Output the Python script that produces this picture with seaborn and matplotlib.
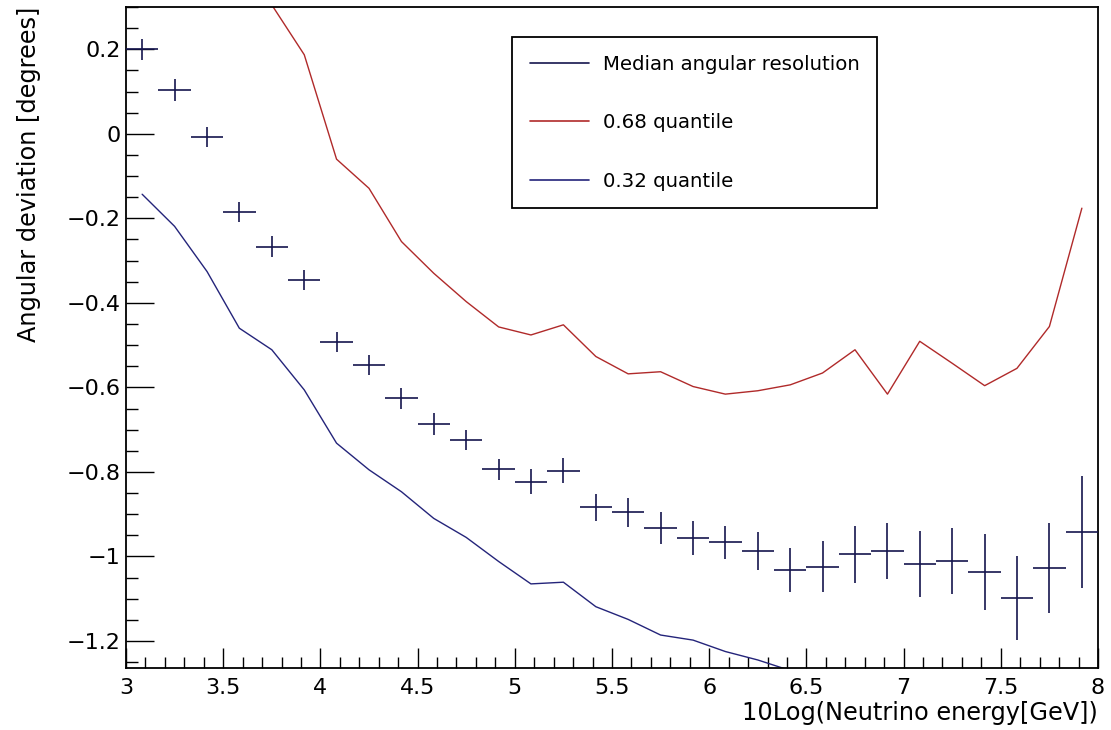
import numpy as np
import pandas as pd
import matplotlib
matplotlib.use("Agg")
import matplotlib.pyplot as plt
from matplotlib.ticker import MultipleLocator
from matplotlib.lines import Line2D
import seaborn as sns

# Energy bins: centres of the 30 bins in 10log(E/GeV) between 3 and 8
energy = [3.083, 3.250, 3.417, 3.583, 3.750, 3.917, 4.083, 4.250, 4.417, 4.583,
          4.750, 4.917, 5.083, 5.250, 5.417, 5.583, 5.750, 5.917, 6.083, 6.250,
          6.417, 6.583, 6.750, 6.917, 7.083, 7.250, 7.417, 7.583, 7.750, 7.917]
bin_half_width = 1.0 / 12.0

# Median angular resolution (log10 of degrees) with its statistical error
median_res = [0.200, 0.104, -0.007, -0.185, -0.267, -0.346, -0.492, -0.547, -0.626, -0.687,
              -0.724, -0.794, -0.823, -0.797, -0.884, -0.896, -0.933, -0.957, -0.966, -0.987,
              -1.032, -1.024, -0.995, -0.987, -1.019, -1.011, -1.037, -1.098, -1.028, -0.942]
median_err = [0.025, 0.026, 0.024, 0.024, 0.024, 0.024, 0.024, 0.024, 0.024, 0.026,
              0.024, 0.025, 0.029, 0.030, 0.032, 0.034, 0.038, 0.040, 0.039, 0.045,
              0.051, 0.060, 0.067, 0.067, 0.078, 0.078, 0.089, 0.099, 0.106, 0.133]

# 0.68 quantile (first bins lie above the plotted range)
q68 = [np.nan, np.nan, np.nan, np.nan, 0.305, 0.187, -0.060, -0.129, -0.255, -0.330,
       -0.397, -0.457, -0.476, -0.452, -0.527, -0.568, -0.563, -0.598, -0.616, -0.608,
       -0.594, -0.566, -0.511, -0.616, -0.491, -0.543, -0.596, -0.555, -0.456, -0.176]

# 0.32 quantile (last bins lie below the plotted range)
q32 = [-0.143, -0.219, -0.326, -0.460, -0.511, -0.606, -0.732, -0.795, -0.847, -0.910,
       -0.955, -1.012, -1.065, -1.061, -1.119, -1.149, -1.186, -1.198, -1.225, -1.245,
       -1.270, np.nan, np.nan, np.nan, np.nan, np.nan, np.nan, np.nan, np.nan, np.nan]

x_ticks = [3, 3.5, 4, 4.5, 5, 5.5, 6, 6.5, 7, 7.5, 8]
x_tick_labels = ["3", "3.5", "4", "4.5", "5", "5.5", "6", "6.5", "7", "7.5", "8"]
y_ticks = [-1.2, -1.0, -0.8, -0.6, -0.4, -0.2, 0.0, 0.2]
y_tick_labels = ["\u22121.2", "\u22121", "\u22120.8", "\u22120.6", "\u22120.4", "\u22120.2", "0", "0.2"]

labels = ["Median angular resolution", "0.68 quantile", "0.32 quantile"]

col_median = "#15154e"
col_q68 = "#b02a2a"
col_q32 = "#24247a"

sns.set_theme(style="ticks", rc={"text.color": "black", "axes.labelcolor": "black",
                                 "xtick.color": "black", "ytick.color": "black"})
plt.rcParams["font.family"] = ["DejaVu Sans"]

fig = plt.figure(figsize=(11.11, 7.30), dpi=100)
fig.patch.set_facecolor("white")
ax = fig.add_axes([126 / 1111, 1 - 668 / 730, 972 / 1111, 661 / 730])
ax.set_facecolor("white")

df = pd.DataFrame({"energy": energy, "q68": q68, "q32": q32})
sns.lineplot(data=df, x="energy", y="q68", color=col_q68, linewidth=1.0, ax=ax)
sns.lineplot(data=df, x="energy", y="q32", color=col_q32, linewidth=1.0, ax=ax)

ax.errorbar(energy, median_res, xerr=bin_half_width, yerr=median_err,
            fmt="none", ecolor=col_median, elinewidth=1.2, capsize=0, zorder=3)

ax.set_xlim(3, 8)
ax.set_ylim(-1.264, 0.30)

ax.set_xticks(x_ticks)
ax.set_xticklabels(x_tick_labels)
ax.set_yticks(y_ticks)
ax.set_yticklabels(y_tick_labels)
ax.xaxis.set_minor_locator(MultipleLocator(0.1))
ax.yaxis.set_minor_locator(MultipleLocator(0.05))

ax.tick_params(axis="both", which="both", direction="in", top=False, right=False,
               colors="black", labelsize=16, width=1.0)
ax.tick_params(axis="x", which="major", length=14.5, pad=7)
ax.tick_params(axis="x", which="minor", length=8)
ax.tick_params(axis="y", which="major", length=20, pad=4)
ax.tick_params(axis="y", which="minor", length=8.6)

for side in ["top", "right", "bottom", "left"]:
    ax.spines[side].set_visible(True)
    ax.spines[side].set_color("black")
    ax.spines[side].set_linewidth(1.3)

ax.set_xlabel("10Log(Neutrino energy[GeV])", fontsize=17.3, loc="right", color="black")
ax.xaxis.set_label_coords(1.0, -0.05)
ax.set_ylabel("Angular deviation [degrees]", fontsize=17.3, loc="top", color="black")
ax.yaxis.set_label_coords(-0.087, 1.0)

handles = [Line2D([], [], color=col_median, linewidth=1.2),
           Line2D([], [], color=col_q68, linewidth=1.2),
           Line2D([], [], color=col_q32, linewidth=1.2)]
leg = ax.legend(handles, labels, loc="upper left",
                bbox_to_anchor=(512 / 1111, 1 - 37 / 730), bbox_transform=fig.transFigure,
                borderaxespad=0, fontsize=14.2, frameon=True, fancybox=False,
                handlelength=3.0, handletextpad=0.7, labelspacing=2.0, borderpad=0.9)
for txt in leg.get_texts():
    txt.set_color("black")
leg.get_frame().set_edgecolor("black")
leg.get_frame().set_linewidth(1.3)
leg.get_frame().set_facecolor("white")
leg.get_frame().set_alpha(1.0)

fig.savefig("out.png", dpi=100, facecolor="white")
